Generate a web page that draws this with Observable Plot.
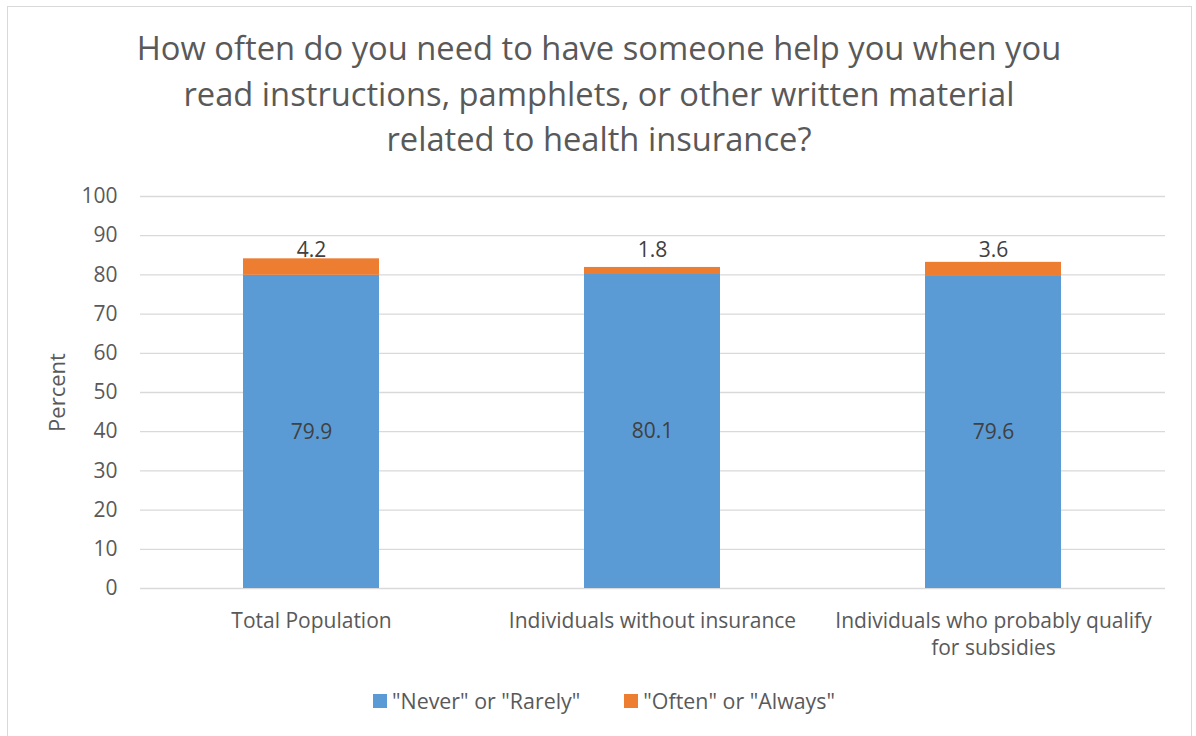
<!DOCTYPE html>
<html><head><meta charset="utf-8">
<script src="https://cdn.jsdelivr.net/npm/d3@7"></script>
<script src="https://cdn.jsdelivr.net/npm/@observablehq/plot@0.6"></script>
<style>
html,body{margin:0;padding:0;background:#fff;overflow:hidden;}
#chart{position:relative;width:1196px;height:736px;font-family:"Open Sans",sans-serif;color:#595959;}
#frame{position:absolute;left:7px;top:6px;width:1185px;height:760px;border:1px solid #d9d9d9;box-sizing:border-box;pointer-events:none;}
#title{position:absolute;left:7px;top:25px;width:1184px;text-align:center;font-size:32.7px;line-height:45.5px;}
#plot{position:absolute;left:0;top:0;}
#legend{position:absolute;left:373px;top:683px;display:flex;align-items:center;font-size:21.4px;line-height:36px;white-space:pre;}
.item{display:flex;align-items:center;}
.sw{width:14px;height:14px;margin-right:5px;}
</style></head>
<body>
<div id="chart">
  <div id="plot"></div>
  <div id="title"></div>
  <div id="legend"></div>
  <div id="frame"></div>
</div>
<script>
const titleLines = [
  "How often do you need to have someone help you when you",
  "read instructions, pamphlets, or other written material",
  "related to health insurance?"
];
const categories = ["Total Population", "Individuals without insurance", "Individuals who probably qualify for subsidies"];
const xTickLabels = ["Total Population", "Individuals without insurance", "Individuals who probably qualify\nfor subsidies"];
const seriesNames = ["\"Never\" or \"Rarely\"", "\"Often\" or \"Always\""];
const seriesColors = ["#5B9BD5", "#ED7D31"];
const neverRarely = [79.9, 80.1, 79.6];
const oftenAlways = [4.2, 1.8, 3.6];
const yTicks = [0, 10, 20, 30, 40, 50, 60, 70, 80, 90, 100];
const yLabel = "Percent";

document.getElementById("title").innerHTML = titleLines.join("<br>");

const rows = [];
categories.forEach((c, i) => {
  rows.push({category: c, series: seriesNames[0], value: neverRarely[i]});
  rows.push({category: c, series: seriesNames[1], value: oftenAlways[i]});
});
const totals = categories.map((c, i) => neverRarely[i] + oftenAlways[i]);
const maxTotal = d3.max(totals);

const plot = Plot.plot({
  width: 1196,
  height: 736,
  marginTop: 196,
  marginBottom: 148,
  marginLeft: 140,
  marginRight: 31,
  style: {background: "transparent", fontFamily: "'Open Sans', sans-serif", fontSize: "21px", color: "#595959"},
  x: {domain: categories, paddingInner: 0.6, paddingOuter: 0.3, label: null},
  y: {domain: [0, 100], label: null},
  color: {domain: seriesNames, range: seriesColors},
  marks: [
    Plot.ruleY(yTicks, {stroke: "#d9d9d9", strokeWidth: 1.3}),
    Plot.barY(rows, Plot.stackY({x: "category", y: "value", fill: "series"})),
    Plot.axisY(yTicks, {tickSize: 0, tickPadding: 23, label: null, fontSize: 21}),
    Plot.axisX({tickSize: 0, tickPadding: 21, label: null, fontSize: 21, lineHeight: 1.26,
      tickFormat: d => xTickLabels[categories.indexOf(d)]}),
    Plot.text(rows.filter(r => r.series === seriesNames[0]), {
      x: "category", y: d => d.value / 2, text: d => d.value.toFixed(1), fill: "#404040", fontSize: 21
    }),
    Plot.text(rows.filter(r => r.series === seriesNames[1]), {
      x: "category", y: () => maxTotal, dy: -9, text: d => d.value.toFixed(1), fill: "#404040", fontSize: 21
    }),
    Plot.text([yLabel], {frameAnchor: "left", textAnchor: "middle", rotate: -90, dx: -83, fontSize: 22, text: d => d})
  ]
});
document.getElementById("plot").appendChild(plot);

const legend = document.getElementById("legend");
seriesNames.forEach((s, i) => {
  const item = document.createElement("div");
  item.className = "item";
  if (i > 0) item.style.marginLeft = "44px";
  const sw = document.createElement("div");
  sw.className = "sw";
  sw.style.background = seriesColors[i];
  const t = document.createElement("span");
  t.textContent = s;
  item.appendChild(sw);
  item.appendChild(t);
  legend.appendChild(item);
});
</script>
</body></html>
